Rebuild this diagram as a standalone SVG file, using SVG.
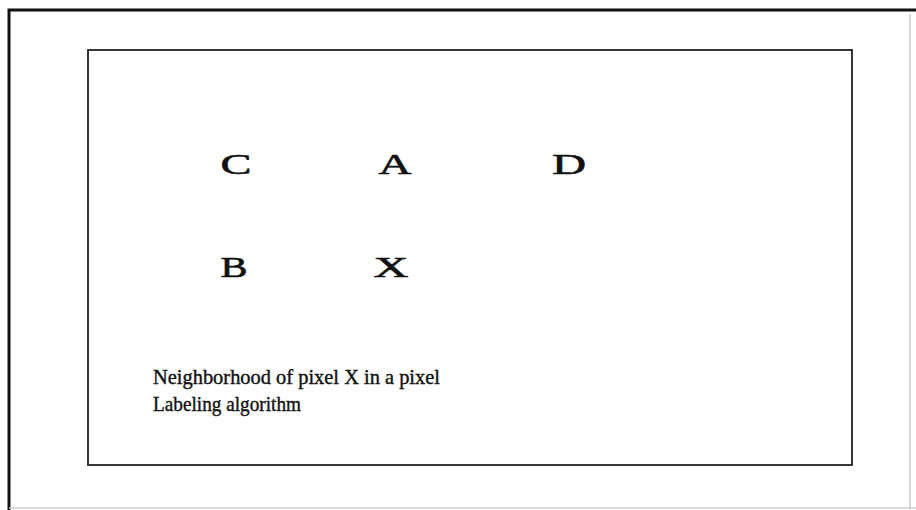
<svg xmlns="http://www.w3.org/2000/svg" width="916" height="510" viewBox="0 0 916 510">
<style>
.lbl{font-family:"Liberation Serif","DejaVu Serif",serif;font-size:30px;fill:#111;stroke:#111;stroke-width:0.6;text-anchor:middle}
.cap{font-family:"Liberation Serif","DejaVu Serif",serif;font-size:21px;fill:#111;stroke:#111;stroke-width:0.4}
</style>
<rect x="0" y="0" width="916" height="510" fill="#fff"/>
<g id="frame">
<path d="M9,510 V10 H916" fill="none" stroke="#111" stroke-width="3"/>
<path d="M910,14 V508 M9,508 H916" fill="none" stroke="#ccc" stroke-width="1.5"/>
<rect x="88" y="50" width="764" height="415" fill="none" stroke="#222" stroke-width="1.8"/>
</g>
<g id="node-C"><text class="lbl" x="236" y="174" textLength="31" lengthAdjust="spacingAndGlyphs">C</text></g>
<g id="node-A"><text class="lbl" x="395" y="174" textLength="33" lengthAdjust="spacingAndGlyphs">A</text></g>
<g id="node-D"><text class="lbl" x="569" y="174" textLength="34" lengthAdjust="spacingAndGlyphs">D</text></g>
<g id="node-B"><text class="lbl" x="234" y="277" textLength="27" lengthAdjust="spacingAndGlyphs">B</text></g>
<g id="node-X"><text class="lbl" x="391" y="277" textLength="35" lengthAdjust="spacingAndGlyphs">X</text></g>
<g id="caption">
<text class="cap" x="153" y="384" textLength="287" lengthAdjust="spacingAndGlyphs">Neighborhood of pixel X in a pixel</text>
<text class="cap" x="153" y="411" textLength="148" lengthAdjust="spacingAndGlyphs">Labeling algorithm</text>
</g>
<g id="connectors"/>
</svg>
